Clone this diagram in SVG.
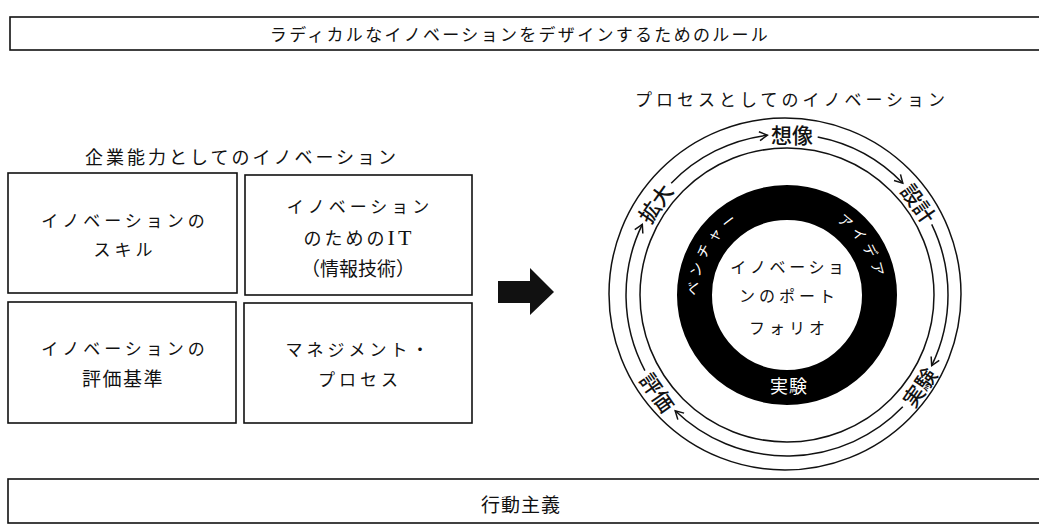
<svg xmlns="http://www.w3.org/2000/svg" width="1039" height="526" viewBox="0 0 1039 526">
<style>
text{font-family:"Noto Sans CJK JP","Noto Sans",sans-serif;fill:#111;dominant-baseline:central;text-anchor:middle}
.box{fill:#fff;stroke:#111;stroke-width:1.6}
.t17{font-size:17px;letter-spacing:4px}
.kan{font-size:19px;letter-spacing:1.5px}
.ring{fill:none;stroke:#111;stroke-width:1.5}
.arc{fill:none;stroke:#111;stroke-width:1.5;marker-end:url(#open)}
.lab{font-size:21px;font-weight:500}
.wt{fill:#fff;font-size:14px;letter-spacing:4.5px;dominant-baseline:auto}
</style>
<defs>
<marker id="open" markerUnits="userSpaceOnUse" markerWidth="12" markerHeight="12" refX="9" refY="5" orient="auto" viewBox="0 0 12 10">
<path d="M1,0.5 L9,5 L1,9.5" fill="none" stroke="#111" stroke-width="1.5"/>
</marker>
<path id="ringPath" d="M787,206 A89,89 0 1 1 787,384 A89,89 0 1 1 787,206"/>
</defs>
<rect width="1039" height="526" fill="#fff"/>

<g id="title">
<rect class="box" x="10" y="17" width="1040" height="33"/>
<text x="520" y="33" style="font-size:17px;letter-spacing:2.3px">ラディカルなイノベーションをデザインするためのルール</text>
</g>

<g id="capability-label">
<text x="242" y="156" style="font-size:18px;letter-spacing:3px">企業能力としてのイノベーション</text>
</g>

<g id="box-skill">
<rect class="box" x="8" y="173" width="229" height="120"/>
<text class="t17" x="125" y="219">イノベーションの</text>
<text class="t17" x="125" y="248">スキル</text>
</g>

<g id="box-it">
<rect class="box" x="245" y="175" width="227" height="120"/>
<text class="t17" x="360" y="205">イノベーション</text>
<text x="359" y="237" style="font-size:18px;letter-spacing:3px">のための<tspan style="font-family:'Liberation Serif',serif;font-size:22px">IT</tspan></text>
<text x="358" y="267" style="font-size:19px;letter-spacing:0px">（情報技術）</text>
</g>

<g id="box-metrics">
<rect class="box" x="8" y="302" width="228" height="121"/>
<text class="t17" x="125" y="347">イノベーションの</text>
<text class="kan" x="123" y="377">評価基準</text>
</g>

<g id="box-management">
<rect class="box" x="244" y="303" width="228" height="120"/>
<text class="t17" x="359" y="348">マネジメント・</text>
<text class="t17" x="360" y="378">プロセス</text>
</g>

<g id="connectors">
<path id="big-arrow" d="M498,281 H530 V268 L554,292 L530,315 V303 H498 Z" fill="#111"/>
<path class="arc" d="M671.2,183.2 A161,161 0 0 1 767.4,135.2"/>
<path class="arc" d="M817.7,137 A161,161 0 0 1 902.8,183.2"/>
<path class="arc" d="M931.7,224.4 A161,161 0 0 1 931.7,365.6"/>
<path class="arc" d="M902.8,406.8 A161,161 0 0 1 675.2,410.8"/>
<path class="arc" d="M644.9,370.6 A161,161 0 0 1 642.3,224.4"/>
</g>

<g id="process-label">
<text x="792" y="98" class="t17">プロセスとしてのイノベーション</text>
</g>

<g id="process-circle">
<circle class="ring" cx="785" cy="294" r="176"/>
<circle class="ring" cx="787" cy="295" r="147"/>
<circle cx="787" cy="295" r="92.5" fill="none" stroke="#000" stroke-width="35"/>
<text class="wt"><textPath href="#ringPath" startOffset="464" text-anchor="middle">ベンチャー</textPath></text>
<text class="wt"><textPath href="#ringPath" startOffset="89" text-anchor="middle">アイデア</textPath></text>
<text x="789" y="385" style="fill:#fff;font-size:18px;letter-spacing:1px">実験</text>
</g>

<g id="portfolio">
<text x="789" y="266" style="font-size:16px;letter-spacing:3.6px">イノベーショ</text>
<text x="789" y="295" style="font-size:16px;letter-spacing:4px">ンのポート</text>
<text x="789" y="327" style="font-size:16px;letter-spacing:4px">フォリオ</text>
</g>

<g id="stage-imagine"><text class="lab" x="792" y="134">想像</text></g>
<g id="stage-design"><text class="lab" transform="translate(919,203) rotate(55)">設計</text></g>
<g id="stage-experiment"><text class="lab" transform="translate(919,387) rotate(-55)">実験</text></g>
<g id="stage-evaluate"><text class="lab" transform="translate(658,392) rotate(55)">評価</text></g>
<g id="stage-scale"><text class="lab" transform="translate(655,203) rotate(-55)">拡大</text></g>

<g id="activism">
<rect class="box" x="8" y="479" width="1040" height="44"/>
<text x="521" y="503" style="font-size:19px;letter-spacing:1px">行動主義</text>
</g>
</svg>
